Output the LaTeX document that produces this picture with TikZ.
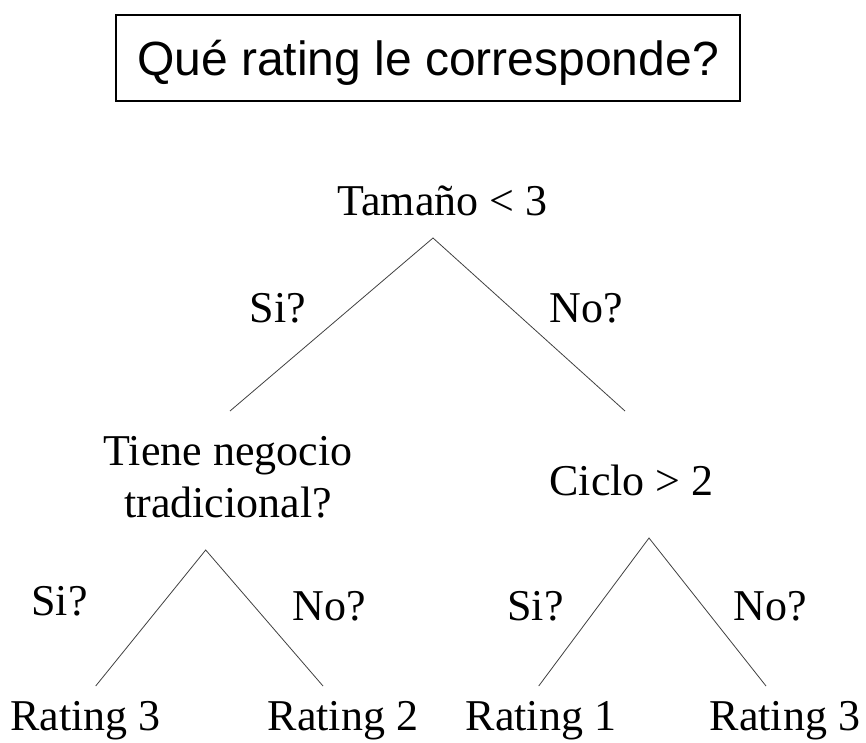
\documentclass[tikz,border=0pt]{standalone}
\usepackage{fontspec}
\setmainfont{Liberation Serif}
\newfontfamily\titlefont{Liberation Sans}
\tikzset{
  rama/.style={black!75, line width=0.8pt},
  texto/.style={anchor=base, inner sep=0pt, font=\fontsize{44}{52}\selectfont},
  titulo/.style={draw, line width=1.3pt, inner sep=0pt, minimum width=624pt, minimum height=86pt,
    text height=36pt, text depth=0pt, font=\titlefont\fontsize{48}{56}\selectfont}
}

\begin{document}
\begin{tikzpicture}[x=1pt,y=-1pt]
\useasboundingbox (0,0) rectangle (866,743);
\node[titulo] (pregunta) at (428,58) {Qué rating le corresponde?};

% nodos del arbol
\node[texto] (tamano) at (442.5,215) {Tamaño < 3};
\node[texto] (negocio) at (228,465) {\begin{tabular}[t]{@{}c@{}}Tiene negocio\\tradicional?\end{tabular}};
\node[texto] (ciclo) at (631.5,495) {Ciclo > 2};
\node[texto] (ratingA) at (85.5,730) {Rating 3};
\node[texto] (ratingB) at (343,730) {Rating 2};
\node[texto] (ratingC) at (541,730) {Rating 1};
\node[texto] (ratingD) at (785,730) {Rating 3};

% puntas de las ramas
\coordinate (tamano-p) at (433,238);
\coordinate (tamano-si) at (230,411);
\coordinate (tamano-no) at (625,411);
\coordinate (negocio-p) at (205.7,550);
\coordinate (negocio-si) at (95.7,686);
\coordinate (negocio-no) at (323,686);
\coordinate (ciclo-p) at (649,538);
\coordinate (ciclo-si) at (538.7,686);
\coordinate (ciclo-no) at (766,686);

\draw[rama] (tamano-si) -- (tamano-p) -- (tamano-no);
\draw[rama] (negocio-si) -- (negocio-p) -- (negocio-no);
\draw[rama] (ciclo-si) -- (ciclo-p) -- (ciclo-no);

% etiquetas
\node[texto] (si1) at (278,322) {Si?};
\node[texto] (no1) at (586,322) {No?};
\node[texto] (si2) at (59.5,615) {Si?};
\node[texto] (no2) at (329,620) {No?};
\node[texto] (si3) at (535.5,620) {Si?};
\node[texto] (no3) at (770.5,620) {No?};
\end{tikzpicture}
\end{document}
